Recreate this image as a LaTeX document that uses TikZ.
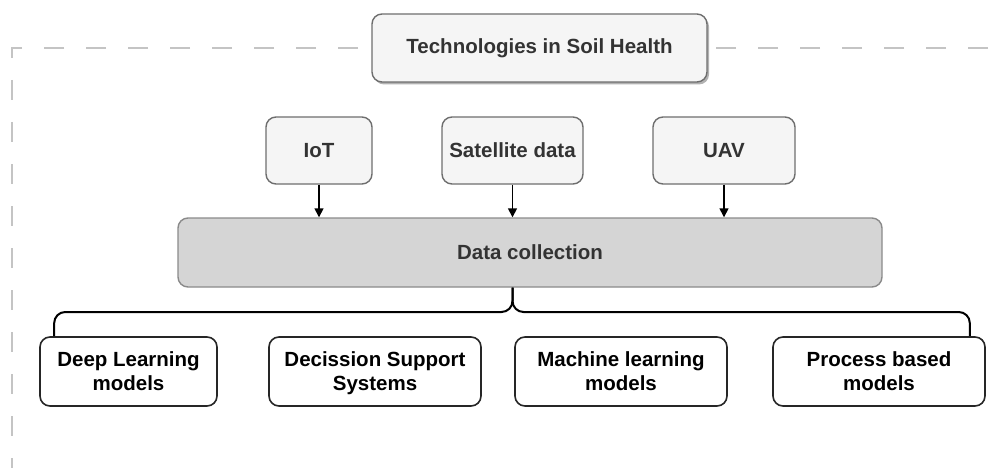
\documentclass[tikz,border=0pt]{standalone}
\usepackage{fontspec}
\setmainfont{Liberation Sans}
\usetikzlibrary{calc,shadows,arrows.meta}
\definecolor{boxfill}{HTML}{F5F5F5}
\definecolor{boxline}{HTML}{6E6E6E}
\definecolor{dcfill}{HTML}{D5D5D5}
\definecolor{dcline}{HTML}{8A8A8A}
\definecolor{txt}{HTML}{333333}
\definecolor{frame}{HTML}{C4C4C4}
\newcommand{\mstrut}{\rule[-4.5pt]{0pt}{23pt}}
\tikzset{
  base/.style={rounded corners=10pt, inner sep=0pt, align=center,
    font=\bfseries\fontsize{20.5}{23.5}\selectfont},
  topbox/.style={base, draw=boxline, fill=boxfill, line width=1.4pt, text=txt},
  dcbox/.style={base, draw=dcline, fill=dcfill, line width=1.4pt, text=txt},
  modelbox/.style={base, draw=black!85, fill=white, line width=1.6pt, text=black},
  arr/.style={line width=1.5pt, -{Triangle[length=9pt,width=9pt]}},
  brace/.style={line width=2pt, rounded corners=11pt},
}
\begin{document}
\begin{tikzpicture}[x=1pt,y=-1pt]
\useasboundingbox (0,0) rectangle (1006,468);
% dashed frame
\draw[frame, line width=2pt, dash pattern=on 20pt off 22pt] (1030,48) -- (12,48) -- (12,480);
% title
\node[topbox, minimum width=335pt, minimum height=68pt,
  drop shadow={shadow xshift=2pt, shadow yshift=-2.5pt, fill=black, opacity=0.3}]
  (title) at (539.5,48) {Technologies in Soil Health};
% sources
\node[topbox, minimum width=106pt, minimum height=67pt] (iot) at (319,150.5) {IoT};
\node[topbox, minimum width=141pt, minimum height=67pt] (sat) at (512.5,150.5) {Satellite data};
\node[topbox, minimum width=142pt, minimum height=67pt] (uav) at (724,150.5) {UAV};
% data collection
\node[dcbox, minimum width=704pt, minimum height=69pt] (dc) at (530,252.5) {Data collection};
\draw[arr] (iot.south) -- (iot.south |- dc.north);
\draw[arr] (sat.south) -- (sat.south |- dc.north);
\draw[arr] (uav.south) -- (uav.south |- dc.north);
% models
\node[modelbox, minimum width=177pt, minimum height=69pt] (dl) at (128.5,371.5) {\mstrut Deep Learning\\\mstrut models};
\node[modelbox, minimum width=212pt, minimum height=69pt] (dss) at (375,371.5) {\mstrut Decission Support\\\mstrut Systems};
\node[modelbox, minimum width=212pt, minimum height=69pt] (ml) at (621,371.5) {\mstrut Machine learning\\\mstrut models};
\node[modelbox, minimum width=212pt, minimum height=69pt] (pb) at (879,371.5) {\mstrut Process based\\\mstrut models};
% brace connector
\coordinate (dcb) at (sat.south |- dc.south);
\coordinate (dlt) at ($(dl.north west)+(15,0)$);
\coordinate (pbt) at ($(pb.north east)+(-16,0)$);
\draw[brace] (dlt) -- (dlt |- 0,312) -- (dcb |- 0,312) -- (dcb);
\draw[brace] (pbt) -- (pbt |- 0,312) -- (dcb |- 0,312) -- (dcb);
\end{tikzpicture}
\end{document}
